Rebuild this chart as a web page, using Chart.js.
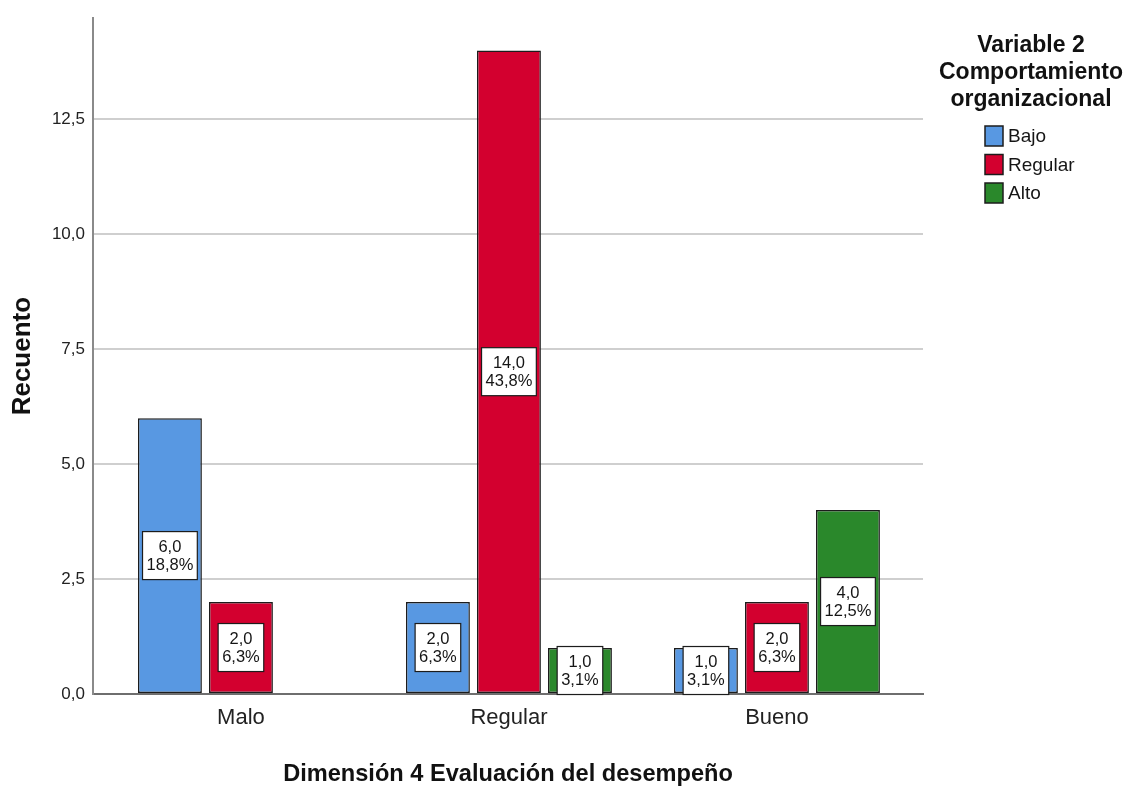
<!DOCTYPE html>
<html>
<head>
<meta charset="utf-8">
<script src="https://cdn.jsdelivr.net/npm/chart.js@4"></script>
<style>
  html, body { margin: 0; padding: 0; background: #fff; }
  #wrap { width: 1127px; height: 789px; position: relative; }
</style>
</head>
<body>
<div id="wrap"><canvas id="c"></canvas></div>
<script>
// ---- data ----
const categories = ['Malo', 'Regular', 'Bueno'];
const seriesNames = ['Bajo', 'Regular', 'Alto'];
const bajoValues = [6, 2, 1];
const regularValues = [2, 14, 2];
const altoValues = [null, 1, 4];
const seriesColors = ['#5898E2', '#D3002F', '#2A882B'];
const legendTitle = ['Variable 2', 'Comportamiento', 'organizacional'];
const xTitle = 'Dimensión 4 Evaluación del desempeño';
const yTitle = 'Recuento';
const yStep = 2.5;
const yMax = 14.7;

const FONT = "'Liberation Sans', Arial, sans-serif";
const allSeries = [bajoValues, regularValues, altoValues];
const total = allSeries.flat().reduce((a, b) => a + (b || 0), 0);
const fmt = v => v.toFixed(1).replace('.', ',');

const datasets = allSeries.map((vals, s) => ({
  label: seriesNames[s],
  data: vals.map((v, i) => ({ x: i, y: v })),
  backgroundColor: seriesColors[s],
  borderColor: '#1c1c1c',
  borderWidth: 1.5,
  borderSkipped: false,
  categoryPercentage: 0.795,
  barPercentage: 0.9
}));

const labelPlugin = {
  id: 'barLabels',
  afterDatasetsDraw(chart) {
    const ctx = chart.ctx;
    ctx.save();
    ctx.font = '16.5px ' + FONT;
    ctx.textAlign = 'center';
    ctx.textBaseline = 'middle';
    chart.data.datasets.forEach((ds, di) => {
      const meta = chart.getDatasetMeta(di);
      meta.data.forEach((el, i) => {
        const v = ds.data[i].y;
        if (v == null || v === 0) return;
        const l1 = fmt(v);
        const l2 = fmt(v / total * 100) + '%';
        const w = Math.max(ctx.measureText(l1).width, ctx.measureText(l2).width) + 8;
        const lh = 18;
        const h = lh * 2 + 12;
        const cx = el.x;
        const cy = (el.y + el.base) / 2;
        ctx.fillStyle = '#ffffff';
        ctx.strokeStyle = '#1c1c1c';
        ctx.lineWidth = 1.2;
        ctx.fillRect(cx - w / 2, cy - h / 2, w, h);
        ctx.strokeRect(cx - w / 2, cy - h / 2, w, h);
        ctx.fillStyle = '#151515';
        ctx.fillText(l1, cx, cy - lh / 2 + 1);
        ctx.fillText(l2, cx, cy + lh / 2 + 1);
      });
    });
    ctx.restore();
  }
};

const legendPlugin = {
  id: 'customLegend',
  afterDraw(chart) {
    const ctx = chart.ctx;
    ctx.save();
    ctx.fillStyle = '#111';
    ctx.font = 'bold 23px ' + FONT;
    ctx.textAlign = 'center';
    ctx.textBaseline = 'alphabetic';
    const tx = 1031;
    legendTitle.forEach((t, i) => ctx.fillText(t, tx, 52 + i * 27));
    ctx.font = '19px ' + FONT;
    ctx.textAlign = 'left';
    ctx.textBaseline = 'middle';
    chart.data.datasets.forEach((ds, i) => {
      const y = 126 + i * 28.5;
      ctx.fillStyle = ds.backgroundColor;
      ctx.strokeStyle = '#1c1c1c';
      ctx.lineWidth = 1.5;
      ctx.fillRect(985, y, 18, 20);
      ctx.strokeRect(985, y, 18, 20);
      ctx.fillStyle = '#151515';
      ctx.fillText(ds.label, 1008, y + 11);
    });
    ctx.restore();
  }
};

new Chart(document.getElementById('c'), {
  type: 'bar',
  data: { datasets },
  options: {
    responsive: true,
    maintainAspectRatio: false,
    animation: false,
    devicePixelRatio: 1,
    layout: { padding: { left: 0, right: 204, top: 13, bottom: 0 } },
    plugins: { legend: { display: false }, tooltip: { enabled: false } },
    scales: {
      x: {
        type: 'linear',
        min: -0.552,
        max: 2.545,
        offset: false,
        grid: { display: false, drawTicks: false },
        border: { display: true, color: '#6e6e6e', width: 2 },
        ticks: {
          stepSize: 1,
          includeBounds: false,
          autoSkip: false,
          maxRotation: 0,
          padding: 11,
          color: '#222',
          font: { family: FONT, size: 22 },
          callback: v => (Number.isInteger(v) && categories[v] !== undefined) ? categories[v] : ''
        },
        title: {
          display: true,
          text: xTitle,
          color: '#111',
          font: { family: FONT, size: 23.6, weight: 'bold' },
          padding: { top: 0, bottom: 0 }
        },
        afterFit: s => { s.height = 95; }
      },
      y: {
        min: 0,
        max: yMax,
        grid: { color: '#cfcfcf', lineWidth: 2, drawTicks: false },
        border: { display: true, color: '#8a8a8a', width: 2 },
        ticks: {
          stepSize: yStep,
          includeBounds: false,
          padding: 8,
          color: '#222',
          font: { family: FONT, size: 17 },
          callback: v => fmt(v)
        },
        title: {
          display: true,
          text: yTitle,
          color: '#111',
          font: { family: FONT, size: 26, weight: 'bold' },
          padding: { top: 7, bottom: 0 }
        },
        afterFit: s => { s.width = 93; }
      }
    }
  },
  plugins: [labelPlugin, legendPlugin]
});
</script>
</body>
</html>
